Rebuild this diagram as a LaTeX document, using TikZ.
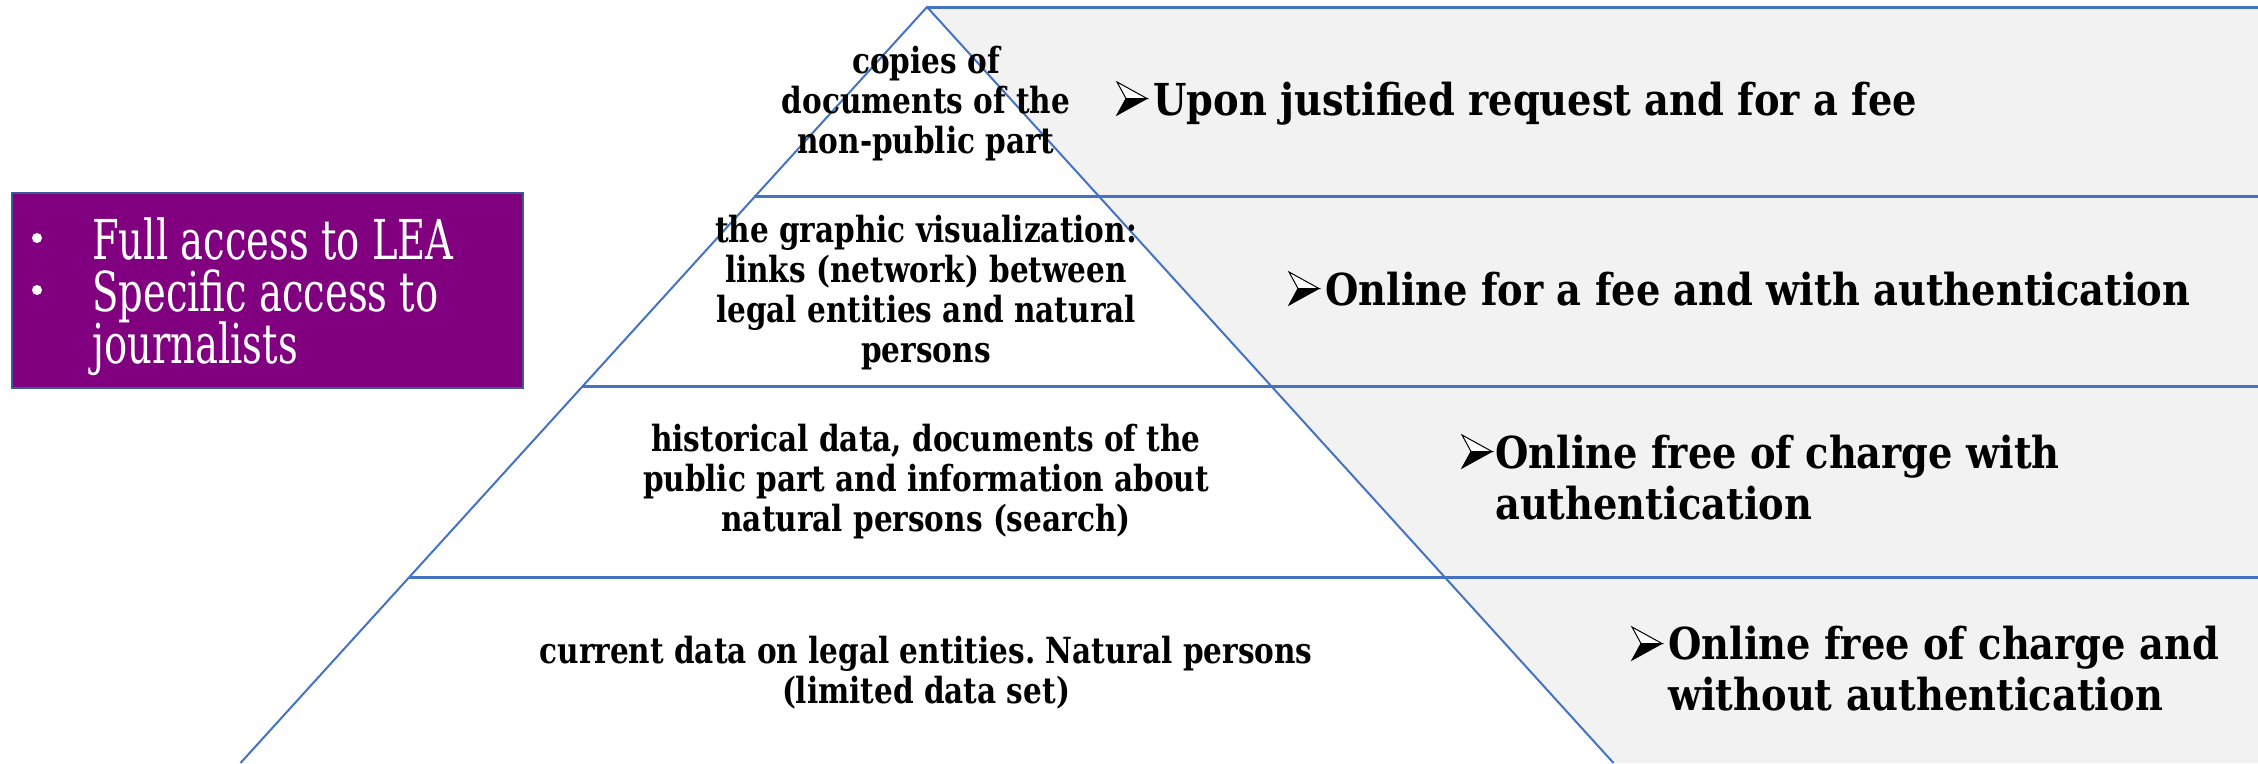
\documentclass[tikz,border=0pt]{standalone}
\usepackage{fontspec}
\usetikzlibrary{calc}
\newfontfamily\pyrfont{DejaVu Serif}[FakeStretch=0.82]
\newfontfamily\rfont{DejaVu Serif}[FakeStretch=0.872]
\newfontfamily\boxfont{DejaVu Serif}[FakeStretch=0.70]
\definecolor{pline}{HTML}{4472C4}
\definecolor{bandgray}{HTML}{F2F2F2}
\definecolor{boxpurple}{HTML}{800080}
\definecolor{boxedge}{HTML}{3C5A96}
\begin{document}
\begin{tikzpicture}[x=1pt,y=-1pt,
  hline/.style={draw=pline,line width=3pt},
  edge/.style={draw=pline,line width=2pt},
  pyr/.style={inner sep=0pt,align=center,anchor=base,font=\pyrfont\bfseries\fontsize{36}{40}\selectfont},
  acc/.style={inner sep=0pt,align=left,anchor=base west,font=\rfont\bfseries\fontsize{44}{51}\selectfont},
  boxtxt/.style={inner sep=0pt,anchor=base west,text=white,font=\boxfont\fontsize{55}{52}\selectfont},
  bul/.style={circle,fill=white,inner sep=0pt,minimum size=10pt},
  accbox/.style={draw=boxedge,fill=boxpurple,line width=2pt,inner sep=0pt,anchor=north west},
  arrowhd/.pic={
    \filldraw[fill=white,draw=black,line width=1pt,line join=miter] (0,-33) -- (30,-16.5) -- (9,-16.5) -- cycle;
    \filldraw[fill=black,draw=black,line width=1pt,line join=miter] (0,0) -- (30,-16.5) -- (9,-16.5) -- cycle;
  }]
\useasboundingbox (0,0) rectangle (2258,763);
\fill[white] (0,0) rectangle (2258,763);
\coordinate (apex) at (927,7);
\coordinate (bl) at (240.5,763);
\coordinate (br) at (1613.5,763);
\coordinate (tr) at (2258,7);
\coordinate (brc) at (2258,763);
\fill[bandgray] (apex) -- (tr) -- (brc) -- (br) -- cycle;
\coordinate (l1) at ($(apex)!0.2513!(bl)$);
\coordinate (l2) at ($(apex)!0.5026!(bl)$);
\coordinate (l3) at ($(apex)!0.7540!(bl)$);
\draw[hline] (apex) -- (tr);
\draw[hline] (l1) -- (l1 -| tr);
\draw[hline] (l2) -- (l2 -| tr);
\draw[hline] (l3) -- (l3 -| tr);
\draw[edge] (bl) -- (apex) -- (br);
% pyramid labels (anchored at the baseline of their last line)
\node[pyr] (p1) at (926,153) {copies of\\documents of the\\non-public part};
\node[pyr] (p2) at (926,362) {the graphic visualization:\\links (network) between\\legal entities and natural\\persons};
\node[pyr] (p3) at (926,531) {historical data, documents of the\\public part and information about\\natural persons (search)};
\node[pyr] (p4) at (926,703) {current data on legal entities.\ Natural persons\\(limited data set)};
% access labels
\pic at (1117,115) {arrowhd};
\node[acc] (a1) at (1153,115) {Upon justified request and for a fee};
\pic at (1289,305) {arrowhd};
\node[acc] (a2) at (1325,305) {Online for a fee and with authentication};
\pic at (1462,468) {arrowhd};
\node[acc] (a3) at (1495,519) {Online free of charge with\\authentication};
\pic at (1632,660) {arrowhd};
\node[acc] (a4) at (1668,710) {Online free of charge and\\without authentication};
% purple box
\node[accbox,minimum width=511pt,minimum height=195pt] (box) at (11,192) {};
\node[bul] (b1) at (37,238) {};
\node[bul] (b2) at (37,290) {};
\node[boxtxt] (t1) at (92,259) {Full access to LEA};
\node[boxtxt] (t2) at (92,311) {Specific access to};
\node[boxtxt] (t3) at (92,363) {journalists};
\end{tikzpicture}
\end{document}
